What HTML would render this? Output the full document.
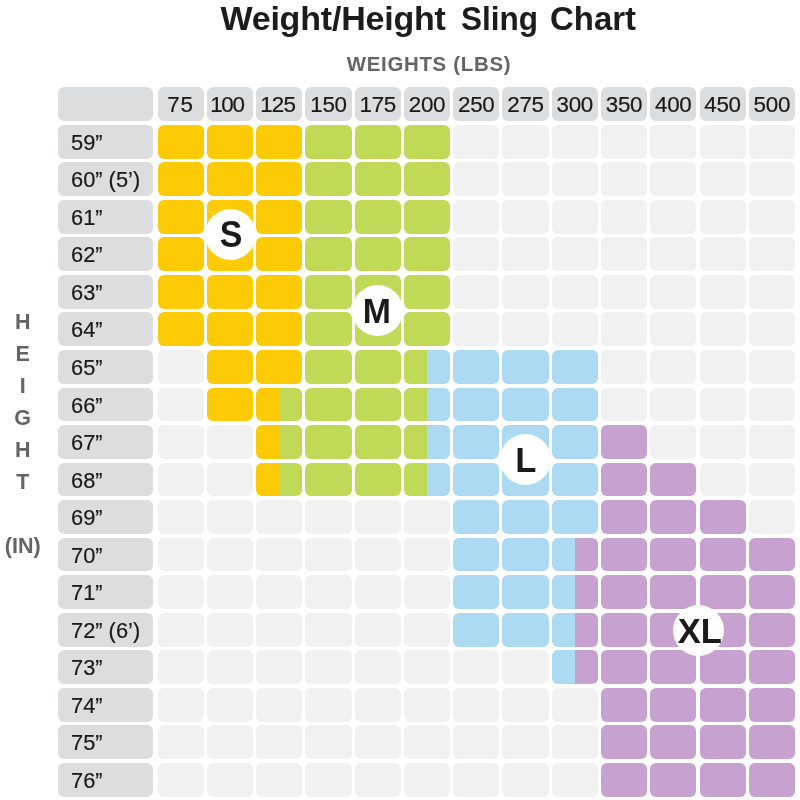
<!DOCTYPE html>
<html><head><meta charset="utf-8"><title>Weight/Height Sling Chart</title>
<style>
html,body{margin:0;padding:0;background:#fff;}
body{width:800px;height:800px;position:relative;overflow:hidden;font-family:"Liberation Sans",sans-serif;}
.c{position:absolute;border-radius:6.0px;}
.l{position:absolute;border-radius:6.0px;background:#dcddde;color:#1a1a1a;font-size:22.4px;-webkit-text-stroke:0.2px #1a1a1a;line-height:35.6px;box-sizing:border-box;padding-left:12.9px;white-space:nowrap;}
.l span{display:inline-block;transform:scaleX(.975);transform-origin:0 50%;}
.k span{display:inline-block;position:relative;transform:scaleX(.93);}
.h{position:absolute;border-radius:6.0px;background:#dcddde;color:#1a1a1a;font-size:22.4px;-webkit-text-stroke:0.2px #1a1a1a;letter-spacing:-0.3px;line-height:36.1px;text-align:center;white-space:nowrap;}
.t{position:absolute;left:0;top:-2.3px;width:800px;height:40px;font-weight:bold;font-size:34px;line-height:40px;color:#1c1c1c;white-space:nowrap;}
.t span{position:absolute;top:0;display:inline-block;transform-origin:0 50%;}
.w{position:absolute;left:229px;top:52px;width:400px;text-align:center;font-weight:bold;font-size:20.4px;letter-spacing:0.72px;line-height:24px;color:#636466;white-space:nowrap;}
.v{position:absolute;left:0;width:45.4px;text-align:center;font-weight:bold;font-size:21.5px;line-height:24px;color:#636466;}
.k{position:absolute;width:51px;height:51px;border-radius:50%;background:#fff;color:#1a1a1a;font-weight:bold;font-size:36.5px;line-height:52.8px;text-align:center;white-space:nowrap;}
</style></head><body>

<div class="t"><span style="left:220.4px;letter-spacing:-0.2px">Weight/Height</span> <span style="left:460.6px;transform:scaleX(.927)">Sling</span> <span style="left:549.9px;transform:scaleX(.969)">Chart</span></div>
<div class="w">WEIGHTS (LBS)</div>
<div class="v" style="top:309.6px">H</div>
<div class="v" style="top:341.6px">E</div>
<div class="v" style="top:373.9px">I</div>
<div class="v" style="top:405.9px">G</div>
<div class="v" style="top:437.9px">H</div>
<div class="v" style="top:469.7px">T</div>
<div class="v" style="top:533.7px">(IN)</div>
<div class="l" style="left:58.3px;top:87.4px;width:94.9px;height:33.9px"></div>
<div class="h" style="left:157.65px;top:87.4px;width:46.1px;height:33.9px;letter-spacing:0.8px;text-indent:-0.6px">75</div>
<div class="h" style="left:206.91px;top:87.4px;width:46.1px;height:33.9px;letter-spacing:-1.3px;text-indent:-6.2px">100</div>
<div class="h" style="left:256.17px;top:87.4px;width:46.1px;height:33.9px;letter-spacing:-0.8px;text-indent:-3px">125</div>
<div class="h" style="left:305.43px;top:87.4px;width:46.1px;height:33.9px">150</div>
<div class="h" style="left:354.69px;top:87.4px;width:46.1px;height:33.9px">175</div>
<div class="h" style="left:403.95px;top:87.4px;width:46.1px;height:33.9px">200</div>
<div class="h" style="left:453.21px;top:87.4px;width:46.1px;height:33.9px">250</div>
<div class="h" style="left:502.47px;top:87.4px;width:46.1px;height:33.9px">275</div>
<div class="h" style="left:551.73px;top:87.4px;width:46.1px;height:33.9px">300</div>
<div class="h" style="left:600.99px;top:87.4px;width:46.1px;height:33.9px">350</div>
<div class="h" style="left:650.25px;top:87.4px;width:46.1px;height:33.9px">400</div>
<div class="h" style="left:699.51px;top:87.4px;width:46.1px;height:33.9px">450</div>
<div class="h" style="left:748.77px;top:87.4px;width:46.1px;height:33.9px">500</div>
<div class="l" style="left:58.3px;top:124.8px;width:94.9px;height:33.9px"><span>59”</span></div>
<div class="c" style="left:157.65px;top:124.8px;width:46.1px;height:33.9px;background:#fdcb05"></div>
<div class="c" style="left:206.91px;top:124.8px;width:46.1px;height:33.9px;background:#fdcb05"></div>
<div class="c" style="left:256.17px;top:124.8px;width:46.1px;height:33.9px;background:#fdcb05"></div>
<div class="c" style="left:305.43px;top:124.8px;width:46.1px;height:33.9px;background:#c0da58"></div>
<div class="c" style="left:354.69px;top:124.8px;width:46.1px;height:33.9px;background:#c0da58"></div>
<div class="c" style="left:403.95px;top:124.8px;width:46.1px;height:33.9px;background:#c0da58"></div>
<div class="c" style="left:453.21px;top:124.8px;width:46.1px;height:33.9px;background:#f1f1f1"></div>
<div class="c" style="left:502.47px;top:124.8px;width:46.1px;height:33.9px;background:#f1f1f1"></div>
<div class="c" style="left:551.73px;top:124.8px;width:46.1px;height:33.9px;background:#f1f1f1"></div>
<div class="c" style="left:600.99px;top:124.8px;width:46.1px;height:33.9px;background:#f1f1f1"></div>
<div class="c" style="left:650.25px;top:124.8px;width:46.1px;height:33.9px;background:#f1f1f1"></div>
<div class="c" style="left:699.51px;top:124.8px;width:46.1px;height:33.9px;background:#f1f1f1"></div>
<div class="c" style="left:748.77px;top:124.8px;width:46.1px;height:33.9px;background:#f1f1f1"></div>
<div class="l" style="left:58.3px;top:162.3px;width:94.9px;height:33.9px"><span>60” (5’)</span></div>
<div class="c" style="left:157.65px;top:162.3px;width:46.1px;height:33.9px;background:#fdcb05"></div>
<div class="c" style="left:206.91px;top:162.3px;width:46.1px;height:33.9px;background:#fdcb05"></div>
<div class="c" style="left:256.17px;top:162.3px;width:46.1px;height:33.9px;background:#fdcb05"></div>
<div class="c" style="left:305.43px;top:162.3px;width:46.1px;height:33.9px;background:#c0da58"></div>
<div class="c" style="left:354.69px;top:162.3px;width:46.1px;height:33.9px;background:#c0da58"></div>
<div class="c" style="left:403.95px;top:162.3px;width:46.1px;height:33.9px;background:#c0da58"></div>
<div class="c" style="left:453.21px;top:162.3px;width:46.1px;height:33.9px;background:#f1f1f1"></div>
<div class="c" style="left:502.47px;top:162.3px;width:46.1px;height:33.9px;background:#f1f1f1"></div>
<div class="c" style="left:551.73px;top:162.3px;width:46.1px;height:33.9px;background:#f1f1f1"></div>
<div class="c" style="left:600.99px;top:162.3px;width:46.1px;height:33.9px;background:#f1f1f1"></div>
<div class="c" style="left:650.25px;top:162.3px;width:46.1px;height:33.9px;background:#f1f1f1"></div>
<div class="c" style="left:699.51px;top:162.3px;width:46.1px;height:33.9px;background:#f1f1f1"></div>
<div class="c" style="left:748.77px;top:162.3px;width:46.1px;height:33.9px;background:#f1f1f1"></div>
<div class="l" style="left:58.3px;top:199.9px;width:94.9px;height:33.9px"><span>61”</span></div>
<div class="c" style="left:157.65px;top:199.9px;width:46.1px;height:33.9px;background:#fdcb05"></div>
<div class="c" style="left:206.91px;top:199.9px;width:46.1px;height:33.9px;background:#fdcb05"></div>
<div class="c" style="left:256.17px;top:199.9px;width:46.1px;height:33.9px;background:#fdcb05"></div>
<div class="c" style="left:305.43px;top:199.9px;width:46.1px;height:33.9px;background:#c0da58"></div>
<div class="c" style="left:354.69px;top:199.9px;width:46.1px;height:33.9px;background:#c0da58"></div>
<div class="c" style="left:403.95px;top:199.9px;width:46.1px;height:33.9px;background:#c0da58"></div>
<div class="c" style="left:453.21px;top:199.9px;width:46.1px;height:33.9px;background:#f1f1f1"></div>
<div class="c" style="left:502.47px;top:199.9px;width:46.1px;height:33.9px;background:#f1f1f1"></div>
<div class="c" style="left:551.73px;top:199.9px;width:46.1px;height:33.9px;background:#f1f1f1"></div>
<div class="c" style="left:600.99px;top:199.9px;width:46.1px;height:33.9px;background:#f1f1f1"></div>
<div class="c" style="left:650.25px;top:199.9px;width:46.1px;height:33.9px;background:#f1f1f1"></div>
<div class="c" style="left:699.51px;top:199.9px;width:46.1px;height:33.9px;background:#f1f1f1"></div>
<div class="c" style="left:748.77px;top:199.9px;width:46.1px;height:33.9px;background:#f1f1f1"></div>
<div class="l" style="left:58.3px;top:237.4px;width:94.9px;height:33.9px"><span>62”</span></div>
<div class="c" style="left:157.65px;top:237.4px;width:46.1px;height:33.9px;background:#fdcb05"></div>
<div class="c" style="left:206.91px;top:237.4px;width:46.1px;height:33.9px;background:#fdcb05"></div>
<div class="c" style="left:256.17px;top:237.4px;width:46.1px;height:33.9px;background:#fdcb05"></div>
<div class="c" style="left:305.43px;top:237.4px;width:46.1px;height:33.9px;background:#c0da58"></div>
<div class="c" style="left:354.69px;top:237.4px;width:46.1px;height:33.9px;background:#c0da58"></div>
<div class="c" style="left:403.95px;top:237.4px;width:46.1px;height:33.9px;background:#c0da58"></div>
<div class="c" style="left:453.21px;top:237.4px;width:46.1px;height:33.9px;background:#f1f1f1"></div>
<div class="c" style="left:502.47px;top:237.4px;width:46.1px;height:33.9px;background:#f1f1f1"></div>
<div class="c" style="left:551.73px;top:237.4px;width:46.1px;height:33.9px;background:#f1f1f1"></div>
<div class="c" style="left:600.99px;top:237.4px;width:46.1px;height:33.9px;background:#f1f1f1"></div>
<div class="c" style="left:650.25px;top:237.4px;width:46.1px;height:33.9px;background:#f1f1f1"></div>
<div class="c" style="left:699.51px;top:237.4px;width:46.1px;height:33.9px;background:#f1f1f1"></div>
<div class="c" style="left:748.77px;top:237.4px;width:46.1px;height:33.9px;background:#f1f1f1"></div>
<div class="l" style="left:58.3px;top:274.9px;width:94.9px;height:33.9px"><span>63”</span></div>
<div class="c" style="left:157.65px;top:274.9px;width:46.1px;height:33.9px;background:#fdcb05"></div>
<div class="c" style="left:206.91px;top:274.9px;width:46.1px;height:33.9px;background:#fdcb05"></div>
<div class="c" style="left:256.17px;top:274.9px;width:46.1px;height:33.9px;background:#fdcb05"></div>
<div class="c" style="left:305.43px;top:274.9px;width:46.1px;height:33.9px;background:#c0da58"></div>
<div class="c" style="left:354.69px;top:274.9px;width:46.1px;height:33.9px;background:#c0da58"></div>
<div class="c" style="left:403.95px;top:274.9px;width:46.1px;height:33.9px;background:#c0da58"></div>
<div class="c" style="left:453.21px;top:274.9px;width:46.1px;height:33.9px;background:#f1f1f1"></div>
<div class="c" style="left:502.47px;top:274.9px;width:46.1px;height:33.9px;background:#f1f1f1"></div>
<div class="c" style="left:551.73px;top:274.9px;width:46.1px;height:33.9px;background:#f1f1f1"></div>
<div class="c" style="left:600.99px;top:274.9px;width:46.1px;height:33.9px;background:#f1f1f1"></div>
<div class="c" style="left:650.25px;top:274.9px;width:46.1px;height:33.9px;background:#f1f1f1"></div>
<div class="c" style="left:699.51px;top:274.9px;width:46.1px;height:33.9px;background:#f1f1f1"></div>
<div class="c" style="left:748.77px;top:274.9px;width:46.1px;height:33.9px;background:#f1f1f1"></div>
<div class="l" style="left:58.3px;top:312.4px;width:94.9px;height:33.9px"><span>64”</span></div>
<div class="c" style="left:157.65px;top:312.4px;width:46.1px;height:33.9px;background:#fdcb05"></div>
<div class="c" style="left:206.91px;top:312.4px;width:46.1px;height:33.9px;background:#fdcb05"></div>
<div class="c" style="left:256.17px;top:312.4px;width:46.1px;height:33.9px;background:#fdcb05"></div>
<div class="c" style="left:305.43px;top:312.4px;width:46.1px;height:33.9px;background:#c0da58"></div>
<div class="c" style="left:354.69px;top:312.4px;width:46.1px;height:33.9px;background:#c0da58"></div>
<div class="c" style="left:403.95px;top:312.4px;width:46.1px;height:33.9px;background:#c0da58"></div>
<div class="c" style="left:453.21px;top:312.4px;width:46.1px;height:33.9px;background:#f1f1f1"></div>
<div class="c" style="left:502.47px;top:312.4px;width:46.1px;height:33.9px;background:#f1f1f1"></div>
<div class="c" style="left:551.73px;top:312.4px;width:46.1px;height:33.9px;background:#f1f1f1"></div>
<div class="c" style="left:600.99px;top:312.4px;width:46.1px;height:33.9px;background:#f1f1f1"></div>
<div class="c" style="left:650.25px;top:312.4px;width:46.1px;height:33.9px;background:#f1f1f1"></div>
<div class="c" style="left:699.51px;top:312.4px;width:46.1px;height:33.9px;background:#f1f1f1"></div>
<div class="c" style="left:748.77px;top:312.4px;width:46.1px;height:33.9px;background:#f1f1f1"></div>
<div class="l" style="left:58.3px;top:350.0px;width:94.9px;height:33.9px"><span>65”</span></div>
<div class="c" style="left:157.65px;top:350.0px;width:46.1px;height:33.9px;background:#f1f1f1"></div>
<div class="c" style="left:206.91px;top:350.0px;width:46.1px;height:33.9px;background:#fdcb05"></div>
<div class="c" style="left:256.17px;top:350.0px;width:46.1px;height:33.9px;background:#fdcb05"></div>
<div class="c" style="left:305.43px;top:350.0px;width:46.1px;height:33.9px;background:#c0da58"></div>
<div class="c" style="left:354.69px;top:350.0px;width:46.1px;height:33.9px;background:#c0da58"></div>
<div class="c" style="left:403.95px;top:350.0px;width:46.1px;height:33.9px;background:linear-gradient(to right,#c0da58 50%,#acdaf3 50%)"></div>
<div class="c" style="left:453.21px;top:350.0px;width:46.1px;height:33.9px;background:#acdaf3"></div>
<div class="c" style="left:502.47px;top:350.0px;width:46.1px;height:33.9px;background:#acdaf3"></div>
<div class="c" style="left:551.73px;top:350.0px;width:46.1px;height:33.9px;background:#acdaf3"></div>
<div class="c" style="left:600.99px;top:350.0px;width:46.1px;height:33.9px;background:#f1f1f1"></div>
<div class="c" style="left:650.25px;top:350.0px;width:46.1px;height:33.9px;background:#f1f1f1"></div>
<div class="c" style="left:699.51px;top:350.0px;width:46.1px;height:33.9px;background:#f1f1f1"></div>
<div class="c" style="left:748.77px;top:350.0px;width:46.1px;height:33.9px;background:#f1f1f1"></div>
<div class="l" style="left:58.3px;top:387.5px;width:94.9px;height:33.9px"><span>66”</span></div>
<div class="c" style="left:157.65px;top:387.5px;width:46.1px;height:33.9px;background:#f1f1f1"></div>
<div class="c" style="left:206.91px;top:387.5px;width:46.1px;height:33.9px;background:#fdcb05"></div>
<div class="c" style="left:256.17px;top:387.5px;width:46.1px;height:33.9px;background:linear-gradient(to right,#fdcb05 50%,#c0da58 50%)"></div>
<div class="c" style="left:305.43px;top:387.5px;width:46.1px;height:33.9px;background:#c0da58"></div>
<div class="c" style="left:354.69px;top:387.5px;width:46.1px;height:33.9px;background:#c0da58"></div>
<div class="c" style="left:403.95px;top:387.5px;width:46.1px;height:33.9px;background:linear-gradient(to right,#c0da58 50%,#acdaf3 50%)"></div>
<div class="c" style="left:453.21px;top:387.5px;width:46.1px;height:33.9px;background:#acdaf3"></div>
<div class="c" style="left:502.47px;top:387.5px;width:46.1px;height:33.9px;background:#acdaf3"></div>
<div class="c" style="left:551.73px;top:387.5px;width:46.1px;height:33.9px;background:#acdaf3"></div>
<div class="c" style="left:600.99px;top:387.5px;width:46.1px;height:33.9px;background:#f1f1f1"></div>
<div class="c" style="left:650.25px;top:387.5px;width:46.1px;height:33.9px;background:#f1f1f1"></div>
<div class="c" style="left:699.51px;top:387.5px;width:46.1px;height:33.9px;background:#f1f1f1"></div>
<div class="c" style="left:748.77px;top:387.5px;width:46.1px;height:33.9px;background:#f1f1f1"></div>
<div class="l" style="left:58.3px;top:425.0px;width:94.9px;height:33.9px"><span>67”</span></div>
<div class="c" style="left:157.65px;top:425.0px;width:46.1px;height:33.9px;background:#f1f1f1"></div>
<div class="c" style="left:206.91px;top:425.0px;width:46.1px;height:33.9px;background:#f1f1f1"></div>
<div class="c" style="left:256.17px;top:425.0px;width:46.1px;height:33.9px;background:linear-gradient(to right,#fdcb05 50%,#c0da58 50%)"></div>
<div class="c" style="left:305.43px;top:425.0px;width:46.1px;height:33.9px;background:#c0da58"></div>
<div class="c" style="left:354.69px;top:425.0px;width:46.1px;height:33.9px;background:#c0da58"></div>
<div class="c" style="left:403.95px;top:425.0px;width:46.1px;height:33.9px;background:linear-gradient(to right,#c0da58 50%,#acdaf3 50%)"></div>
<div class="c" style="left:453.21px;top:425.0px;width:46.1px;height:33.9px;background:#acdaf3"></div>
<div class="c" style="left:502.47px;top:425.0px;width:46.1px;height:33.9px;background:#acdaf3"></div>
<div class="c" style="left:551.73px;top:425.0px;width:46.1px;height:33.9px;background:#acdaf3"></div>
<div class="c" style="left:600.99px;top:425.0px;width:46.1px;height:33.9px;background:#c7a1cf"></div>
<div class="c" style="left:650.25px;top:425.0px;width:46.1px;height:33.9px;background:#f1f1f1"></div>
<div class="c" style="left:699.51px;top:425.0px;width:46.1px;height:33.9px;background:#f1f1f1"></div>
<div class="c" style="left:748.77px;top:425.0px;width:46.1px;height:33.9px;background:#f1f1f1"></div>
<div class="l" style="left:58.3px;top:462.6px;width:94.9px;height:33.9px"><span>68”</span></div>
<div class="c" style="left:157.65px;top:462.6px;width:46.1px;height:33.9px;background:#f1f1f1"></div>
<div class="c" style="left:206.91px;top:462.6px;width:46.1px;height:33.9px;background:#f1f1f1"></div>
<div class="c" style="left:256.17px;top:462.6px;width:46.1px;height:33.9px;background:linear-gradient(to right,#fdcb05 50%,#c0da58 50%)"></div>
<div class="c" style="left:305.43px;top:462.6px;width:46.1px;height:33.9px;background:#c0da58"></div>
<div class="c" style="left:354.69px;top:462.6px;width:46.1px;height:33.9px;background:#c0da58"></div>
<div class="c" style="left:403.95px;top:462.6px;width:46.1px;height:33.9px;background:linear-gradient(to right,#c0da58 50%,#acdaf3 50%)"></div>
<div class="c" style="left:453.21px;top:462.6px;width:46.1px;height:33.9px;background:#acdaf3"></div>
<div class="c" style="left:502.47px;top:462.6px;width:46.1px;height:33.9px;background:#acdaf3"></div>
<div class="c" style="left:551.73px;top:462.6px;width:46.1px;height:33.9px;background:#acdaf3"></div>
<div class="c" style="left:600.99px;top:462.6px;width:46.1px;height:33.9px;background:#c7a1cf"></div>
<div class="c" style="left:650.25px;top:462.6px;width:46.1px;height:33.9px;background:#c7a1cf"></div>
<div class="c" style="left:699.51px;top:462.6px;width:46.1px;height:33.9px;background:#f1f1f1"></div>
<div class="c" style="left:748.77px;top:462.6px;width:46.1px;height:33.9px;background:#f1f1f1"></div>
<div class="l" style="left:58.3px;top:500.1px;width:94.9px;height:33.9px"><span>69”</span></div>
<div class="c" style="left:157.65px;top:500.1px;width:46.1px;height:33.9px;background:#f1f1f1"></div>
<div class="c" style="left:206.91px;top:500.1px;width:46.1px;height:33.9px;background:#f1f1f1"></div>
<div class="c" style="left:256.17px;top:500.1px;width:46.1px;height:33.9px;background:#f1f1f1"></div>
<div class="c" style="left:305.43px;top:500.1px;width:46.1px;height:33.9px;background:#f1f1f1"></div>
<div class="c" style="left:354.69px;top:500.1px;width:46.1px;height:33.9px;background:#f1f1f1"></div>
<div class="c" style="left:403.95px;top:500.1px;width:46.1px;height:33.9px;background:#f1f1f1"></div>
<div class="c" style="left:453.21px;top:500.1px;width:46.1px;height:33.9px;background:#acdaf3"></div>
<div class="c" style="left:502.47px;top:500.1px;width:46.1px;height:33.9px;background:#acdaf3"></div>
<div class="c" style="left:551.73px;top:500.1px;width:46.1px;height:33.9px;background:#acdaf3"></div>
<div class="c" style="left:600.99px;top:500.1px;width:46.1px;height:33.9px;background:#c7a1cf"></div>
<div class="c" style="left:650.25px;top:500.1px;width:46.1px;height:33.9px;background:#c7a1cf"></div>
<div class="c" style="left:699.51px;top:500.1px;width:46.1px;height:33.9px;background:#c7a1cf"></div>
<div class="c" style="left:748.77px;top:500.1px;width:46.1px;height:33.9px;background:#f1f1f1"></div>
<div class="l" style="left:58.3px;top:537.6px;width:94.9px;height:33.9px"><span>70”</span></div>
<div class="c" style="left:157.65px;top:537.6px;width:46.1px;height:33.9px;background:#f1f1f1"></div>
<div class="c" style="left:206.91px;top:537.6px;width:46.1px;height:33.9px;background:#f1f1f1"></div>
<div class="c" style="left:256.17px;top:537.6px;width:46.1px;height:33.9px;background:#f1f1f1"></div>
<div class="c" style="left:305.43px;top:537.6px;width:46.1px;height:33.9px;background:#f1f1f1"></div>
<div class="c" style="left:354.69px;top:537.6px;width:46.1px;height:33.9px;background:#f1f1f1"></div>
<div class="c" style="left:403.95px;top:537.6px;width:46.1px;height:33.9px;background:#f1f1f1"></div>
<div class="c" style="left:453.21px;top:537.6px;width:46.1px;height:33.9px;background:#acdaf3"></div>
<div class="c" style="left:502.47px;top:537.6px;width:46.1px;height:33.9px;background:#acdaf3"></div>
<div class="c" style="left:551.73px;top:537.6px;width:46.1px;height:33.9px;background:linear-gradient(to right,#acdaf3 50%,#c7a1cf 50%)"></div>
<div class="c" style="left:600.99px;top:537.6px;width:46.1px;height:33.9px;background:#c7a1cf"></div>
<div class="c" style="left:650.25px;top:537.6px;width:46.1px;height:33.9px;background:#c7a1cf"></div>
<div class="c" style="left:699.51px;top:537.6px;width:46.1px;height:33.9px;background:#c7a1cf"></div>
<div class="c" style="left:748.77px;top:537.6px;width:46.1px;height:33.9px;background:#c7a1cf"></div>
<div class="l" style="left:58.3px;top:575.2px;width:94.9px;height:33.9px"><span>71”</span></div>
<div class="c" style="left:157.65px;top:575.2px;width:46.1px;height:33.9px;background:#f1f1f1"></div>
<div class="c" style="left:206.91px;top:575.2px;width:46.1px;height:33.9px;background:#f1f1f1"></div>
<div class="c" style="left:256.17px;top:575.2px;width:46.1px;height:33.9px;background:#f1f1f1"></div>
<div class="c" style="left:305.43px;top:575.2px;width:46.1px;height:33.9px;background:#f1f1f1"></div>
<div class="c" style="left:354.69px;top:575.2px;width:46.1px;height:33.9px;background:#f1f1f1"></div>
<div class="c" style="left:403.95px;top:575.2px;width:46.1px;height:33.9px;background:#f1f1f1"></div>
<div class="c" style="left:453.21px;top:575.2px;width:46.1px;height:33.9px;background:#acdaf3"></div>
<div class="c" style="left:502.47px;top:575.2px;width:46.1px;height:33.9px;background:#acdaf3"></div>
<div class="c" style="left:551.73px;top:575.2px;width:46.1px;height:33.9px;background:linear-gradient(to right,#acdaf3 50%,#c7a1cf 50%)"></div>
<div class="c" style="left:600.99px;top:575.2px;width:46.1px;height:33.9px;background:#c7a1cf"></div>
<div class="c" style="left:650.25px;top:575.2px;width:46.1px;height:33.9px;background:#c7a1cf"></div>
<div class="c" style="left:699.51px;top:575.2px;width:46.1px;height:33.9px;background:#c7a1cf"></div>
<div class="c" style="left:748.77px;top:575.2px;width:46.1px;height:33.9px;background:#c7a1cf"></div>
<div class="l" style="left:58.3px;top:612.7px;width:94.9px;height:33.9px"><span>72” (6’)</span></div>
<div class="c" style="left:157.65px;top:612.7px;width:46.1px;height:33.9px;background:#f1f1f1"></div>
<div class="c" style="left:206.91px;top:612.7px;width:46.1px;height:33.9px;background:#f1f1f1"></div>
<div class="c" style="left:256.17px;top:612.7px;width:46.1px;height:33.9px;background:#f1f1f1"></div>
<div class="c" style="left:305.43px;top:612.7px;width:46.1px;height:33.9px;background:#f1f1f1"></div>
<div class="c" style="left:354.69px;top:612.7px;width:46.1px;height:33.9px;background:#f1f1f1"></div>
<div class="c" style="left:403.95px;top:612.7px;width:46.1px;height:33.9px;background:#f1f1f1"></div>
<div class="c" style="left:453.21px;top:612.7px;width:46.1px;height:33.9px;background:#acdaf3"></div>
<div class="c" style="left:502.47px;top:612.7px;width:46.1px;height:33.9px;background:#acdaf3"></div>
<div class="c" style="left:551.73px;top:612.7px;width:46.1px;height:33.9px;background:linear-gradient(to right,#acdaf3 50%,#c7a1cf 50%)"></div>
<div class="c" style="left:600.99px;top:612.7px;width:46.1px;height:33.9px;background:#c7a1cf"></div>
<div class="c" style="left:650.25px;top:612.7px;width:46.1px;height:33.9px;background:#c7a1cf"></div>
<div class="c" style="left:699.51px;top:612.7px;width:46.1px;height:33.9px;background:#c7a1cf"></div>
<div class="c" style="left:748.77px;top:612.7px;width:46.1px;height:33.9px;background:#c7a1cf"></div>
<div class="l" style="left:58.3px;top:650.2px;width:94.9px;height:33.9px"><span>73”</span></div>
<div class="c" style="left:157.65px;top:650.2px;width:46.1px;height:33.9px;background:#f1f1f1"></div>
<div class="c" style="left:206.91px;top:650.2px;width:46.1px;height:33.9px;background:#f1f1f1"></div>
<div class="c" style="left:256.17px;top:650.2px;width:46.1px;height:33.9px;background:#f1f1f1"></div>
<div class="c" style="left:305.43px;top:650.2px;width:46.1px;height:33.9px;background:#f1f1f1"></div>
<div class="c" style="left:354.69px;top:650.2px;width:46.1px;height:33.9px;background:#f1f1f1"></div>
<div class="c" style="left:403.95px;top:650.2px;width:46.1px;height:33.9px;background:#f1f1f1"></div>
<div class="c" style="left:453.21px;top:650.2px;width:46.1px;height:33.9px;background:#f1f1f1"></div>
<div class="c" style="left:502.47px;top:650.2px;width:46.1px;height:33.9px;background:#f1f1f1"></div>
<div class="c" style="left:551.73px;top:650.2px;width:46.1px;height:33.9px;background:linear-gradient(to right,#acdaf3 50%,#c7a1cf 50%)"></div>
<div class="c" style="left:600.99px;top:650.2px;width:46.1px;height:33.9px;background:#c7a1cf"></div>
<div class="c" style="left:650.25px;top:650.2px;width:46.1px;height:33.9px;background:#c7a1cf"></div>
<div class="c" style="left:699.51px;top:650.2px;width:46.1px;height:33.9px;background:#c7a1cf"></div>
<div class="c" style="left:748.77px;top:650.2px;width:46.1px;height:33.9px;background:#c7a1cf"></div>
<div class="l" style="left:58.3px;top:687.8px;width:94.9px;height:33.9px"><span>74”</span></div>
<div class="c" style="left:157.65px;top:687.8px;width:46.1px;height:33.9px;background:#f1f1f1"></div>
<div class="c" style="left:206.91px;top:687.8px;width:46.1px;height:33.9px;background:#f1f1f1"></div>
<div class="c" style="left:256.17px;top:687.8px;width:46.1px;height:33.9px;background:#f1f1f1"></div>
<div class="c" style="left:305.43px;top:687.8px;width:46.1px;height:33.9px;background:#f1f1f1"></div>
<div class="c" style="left:354.69px;top:687.8px;width:46.1px;height:33.9px;background:#f1f1f1"></div>
<div class="c" style="left:403.95px;top:687.8px;width:46.1px;height:33.9px;background:#f1f1f1"></div>
<div class="c" style="left:453.21px;top:687.8px;width:46.1px;height:33.9px;background:#f1f1f1"></div>
<div class="c" style="left:502.47px;top:687.8px;width:46.1px;height:33.9px;background:#f1f1f1"></div>
<div class="c" style="left:551.73px;top:687.8px;width:46.1px;height:33.9px;background:#f1f1f1"></div>
<div class="c" style="left:600.99px;top:687.8px;width:46.1px;height:33.9px;background:#c7a1cf"></div>
<div class="c" style="left:650.25px;top:687.8px;width:46.1px;height:33.9px;background:#c7a1cf"></div>
<div class="c" style="left:699.51px;top:687.8px;width:46.1px;height:33.9px;background:#c7a1cf"></div>
<div class="c" style="left:748.77px;top:687.8px;width:46.1px;height:33.9px;background:#c7a1cf"></div>
<div class="l" style="left:58.3px;top:725.3px;width:94.9px;height:33.9px"><span>75”</span></div>
<div class="c" style="left:157.65px;top:725.3px;width:46.1px;height:33.9px;background:#f1f1f1"></div>
<div class="c" style="left:206.91px;top:725.3px;width:46.1px;height:33.9px;background:#f1f1f1"></div>
<div class="c" style="left:256.17px;top:725.3px;width:46.1px;height:33.9px;background:#f1f1f1"></div>
<div class="c" style="left:305.43px;top:725.3px;width:46.1px;height:33.9px;background:#f1f1f1"></div>
<div class="c" style="left:354.69px;top:725.3px;width:46.1px;height:33.9px;background:#f1f1f1"></div>
<div class="c" style="left:403.95px;top:725.3px;width:46.1px;height:33.9px;background:#f1f1f1"></div>
<div class="c" style="left:453.21px;top:725.3px;width:46.1px;height:33.9px;background:#f1f1f1"></div>
<div class="c" style="left:502.47px;top:725.3px;width:46.1px;height:33.9px;background:#f1f1f1"></div>
<div class="c" style="left:551.73px;top:725.3px;width:46.1px;height:33.9px;background:#f1f1f1"></div>
<div class="c" style="left:600.99px;top:725.3px;width:46.1px;height:33.9px;background:#c7a1cf"></div>
<div class="c" style="left:650.25px;top:725.3px;width:46.1px;height:33.9px;background:#c7a1cf"></div>
<div class="c" style="left:699.51px;top:725.3px;width:46.1px;height:33.9px;background:#c7a1cf"></div>
<div class="c" style="left:748.77px;top:725.3px;width:46.1px;height:33.9px;background:#c7a1cf"></div>
<div class="l" style="left:58.3px;top:762.8px;width:94.9px;height:33.9px"><span>76”</span></div>
<div class="c" style="left:157.65px;top:762.8px;width:46.1px;height:33.9px;background:#f1f1f1"></div>
<div class="c" style="left:206.91px;top:762.8px;width:46.1px;height:33.9px;background:#f1f1f1"></div>
<div class="c" style="left:256.17px;top:762.8px;width:46.1px;height:33.9px;background:#f1f1f1"></div>
<div class="c" style="left:305.43px;top:762.8px;width:46.1px;height:33.9px;background:#f1f1f1"></div>
<div class="c" style="left:354.69px;top:762.8px;width:46.1px;height:33.9px;background:#f1f1f1"></div>
<div class="c" style="left:403.95px;top:762.8px;width:46.1px;height:33.9px;background:#f1f1f1"></div>
<div class="c" style="left:453.21px;top:762.8px;width:46.1px;height:33.9px;background:#f1f1f1"></div>
<div class="c" style="left:502.47px;top:762.8px;width:46.1px;height:33.9px;background:#f1f1f1"></div>
<div class="c" style="left:551.73px;top:762.8px;width:46.1px;height:33.9px;background:#f1f1f1"></div>
<div class="c" style="left:600.99px;top:762.8px;width:46.1px;height:33.9px;background:#c7a1cf"></div>
<div class="c" style="left:650.25px;top:762.8px;width:46.1px;height:33.9px;background:#c7a1cf"></div>
<div class="c" style="left:699.51px;top:762.8px;width:46.1px;height:33.9px;background:#c7a1cf"></div>
<div class="c" style="left:748.77px;top:762.8px;width:46.1px;height:33.9px;background:#c7a1cf"></div>
<div class="k" style="left:204.9px;top:209.0px"><span style="left:1px">S</span></div>
<div class="k" style="left:352.0px;top:284.9px"><span style="font-size:35.8px;transform:scaleX(.945);top:-.3px;left:-.6px">M</span></div>
<div class="k" style="left:499.9px;top:434.3px"><span style="font-size:35.3px;transform:scaleX(.98);left:.3px;top:-.8px">L</span></div>
<div class="k" style="left:673.4px;top:605.4px"><span style="font-size:35.8px;transform:scaleX(.965);left:.6px;top:-.2px">XL</span></div>
</body></html>
